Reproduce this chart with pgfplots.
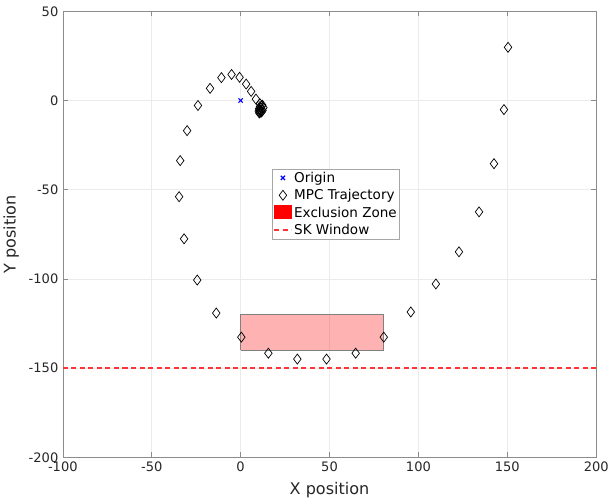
\documentclass[border=0pt]{standalone}
\usepackage{pgfplots}
\pgfplotsset{compat=1.18}
\usepackage{fontspec}
\setmainfont{DejaVu Sans}

\definecolor{axgray}{gray}{0.55}
\definecolor{txtgray}{gray}{0.15}
\definecolor{skred}{rgb}{1,0.2,0.2}

\begin{document}
\begin{tikzpicture}
\begin{axis}[
  scale only axis,
  width=532bp, height=445bp,
  xmin=-100, xmax=200, ymin=-200, ymax=50,
  xtick distance=50, ytick distance=50,
  grid=major,
  major grid style={draw=black!8, line width=0.5bp},
  axis line style={draw=axgray, line width=0.6bp},
  tick style={draw=axgray, line width=0.6bp},
  tick align=inside,
  major tick length=5bp,
  /pgf/number format/assume math mode=true,
  ticklabel style={font=\fontsize{13bp}{15bp}\selectfont, text=txtgray},
  xticklabel style={yshift=-1bp},
  yticklabel style={xshift=-1bp},
  xlabel={X position}, ylabel={Y position},
  label style={font=\fontsize{16bp}{18bp}\selectfont, text=txtgray},
  xlabel style={yshift=-4bp},
  ylabel style={yshift=3bp},
  legend style={at={(rel axis cs:0.393,0.647)}, anchor=north west,
    draw=black!35, line width=0.5bp,
    font=\fontsize{13.5bp}{14bp}\selectfont, text=black,
    inner sep=1bp, row sep=1.6bp, legend cell align=left},
]
% origin
\addplot[only marks, mark=x, mark size=3bp, color=blue, line width=1.2bp]
  coordinates {(0,0)};
\addlegendentry{Origin}

% MPC trajectory samples
\addplot[only marks, mark=diamond, mark size=5bp, color=black, line width=0.7bp,
  mark options={fill=none}]
  coordinates {
  (150.4,29.8) (148.1,-5.1) (142.5,-35.4) (134.1,-62.4) (122.8,-84.8)
  (109.8,-102.8) (95.7,-118.5) (80.5,-132.6) (64.7,-141.6) (48.3,-144.9)
  (31.9,-144.9) (15.6,-141.6) (0.4,-132.6) (-13.7,-119.1) (-24.4,-100.6)
  (-31.8,-77.5) (-34.6,-53.9) (-34.0,-33.7) (-30.1,-16.9) (-24.0,-2.8)
  (-17.2,6.8) (-10.8,12.8) (-5.1,14.6) (-0.6,13.0) (3.1,9.2)
  (5.9,5.1) (8.6,0.8) (10.8,-1.8) (11.9,-3.0) (11.5,-4.2)
  (10.6,-5.2) (10.2,-6.0) (11.0,-6.6) (12.3,-5.6) (12.8,-4.0)
  (12.2,-2.6) (10.9,-3.4) (10.4,-4.6) (11.3,-5.4) (11.8,-6.4) (10.5,-7.0)
  };
\addlegendentry{MPC Trajectory}

% exclusion zone (closed outline, translucent fill)
\addplot[fill=red, fill opacity=0.3, draw=gray, line width=0.6bp, line join=miter,
  legend image code/.code={
    \fill[red, fill opacity=1] (0bp,-6bp) rectangle (17bp,7bp);}]
  coordinates {(0,-140) (80,-140) (80,-120) (0,-120) (0,-140)};
\addlegendentry{Exclusion Zone}

% station-keeping window
\addplot[skred, line width=1.4bp, dash pattern=on 5bp off 3.5bp]
  coordinates {(-100,-150) (200,-150)};
\addlegendentry{SK Window}
\end{axis}
% a little white space above the top tick label
\path (current bounding box.north) ++(0,3bp);
\end{tikzpicture}
\end{document}
